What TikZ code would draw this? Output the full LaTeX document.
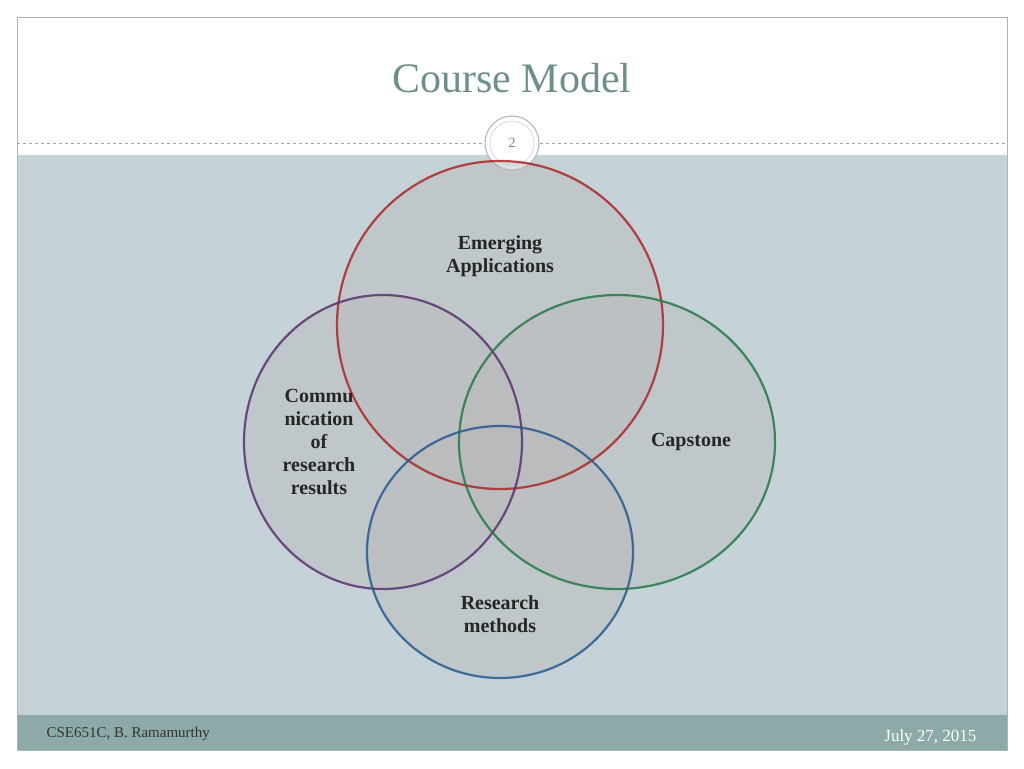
\documentclass[tikz,border=0pt]{standalone}
\usepackage{fontspec}
\setmainfont{Liberation Serif}
\begin{document}
\begin{tikzpicture}[x=1pt,y=-1pt,
  vfill/.style={fill=gray!55!white, fill opacity=0.45},
  vline/.style={line width=2.2pt, draw opacity=0.85},
  lbl/.style={font=\bfseries\fontsize{20}{23}\selectfont, align=center, text=black!85}]
\useasboundingbox (0,0) rectangle (1024,768);
\fill[white] (0,0) rectangle (1024,768);
\fill[fill={rgb,255:red,197;green,211;blue,216}] (17,155) rectangle (1007,715);
\fill[fill={rgb,255:red,141;green,170;blue,168}] (17,715) rectangle (1007,750);
\draw[gray!60] (17,17) rectangle (1007,750);
\node[font=\fontsize{42}{44}\selectfont, text={rgb,255:red,111;green,143;blue,140}] (title) at (512,78) {Course Model};
\draw[gray!70, dashed] (17,143) -- (484,143) (540,143) -- (1007,143);
\node[circle, draw=gray!60, fill=white, minimum size=54pt, line width=1pt] (pg) at (512,143) {};
\node[circle, draw=gray!50, minimum size=44pt] at (pg) {};
\node[font=\fontsize{14}{15}\selectfont, text=gray] at (pg) {2};
\fill[vfill] (500,325) ellipse (163 and 164);
\fill[vfill] (383,442) ellipse (139 and 147);
\fill[vfill] (617,442) ellipse (158 and 147);
\fill[vfill] (500,552) ellipse (133 and 126);
\draw[vline, draw={rgb,255:red,170;green,40;blue,40}] (500,325) ellipse (163 and 164);
\draw[vline, draw={rgb,255:red,90;green,50;blue,110}] (383,442) ellipse (139 and 147);
\draw[vline, draw={rgb,255:red,40;green,120;blue,70}] (617,442) ellipse (158 and 147);
\draw[vline, draw={rgb,255:red,40;green,90;blue,140}] (500,552) ellipse (133 and 126);
\node[lbl] (ea) at (500,256) {Emerging\\Applications};
\node[lbl] (cm) at (319,442) {Commu\\nication\\of\\research\\results};
\node[lbl] (cp) at (691,442) {Capstone};
\node[lbl] (rm) at (500,614) {Research\\methods};
\node[anchor=west, font=\fontsize{15}{16}\selectfont, text=black!80] (ft) at (43,734) {CSE651C, B. Ramamurthy};
\node[anchor=east, font=\fontsize{17}{18}\selectfont, text=white] (dt) at (980,737) {July 27, 2015};
\end{tikzpicture}
\end{document}
